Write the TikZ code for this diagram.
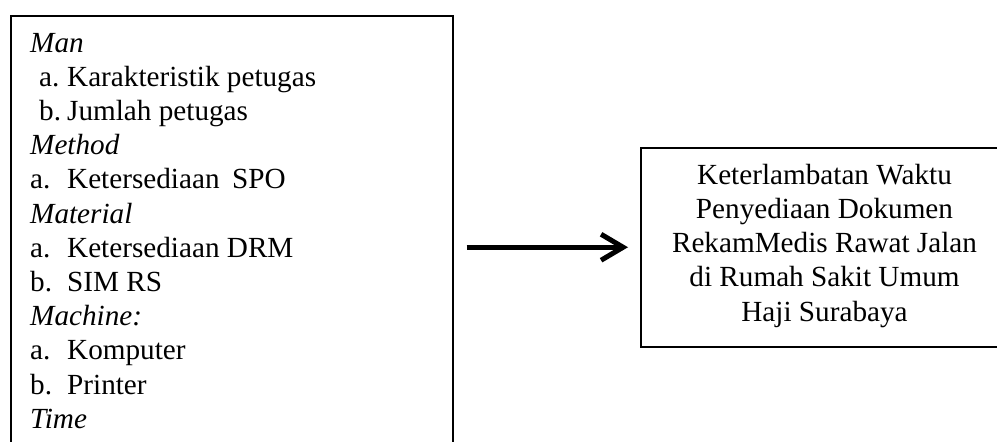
\documentclass[tikz,border=0pt]{standalone}
\usepackage{fontspec}
\setmainfont{Liberation Serif}
\usetikzlibrary{arrows.meta}
\begin{document}
\begin{tikzpicture}[x=1pt,y=1pt,
  boxstyle/.style={draw=black, line width=1.5pt, inner sep=0pt},
  txt/.style={inner sep=0pt, anchor=base west, font=\fontsize{29.2}{34.2}\selectfont},
  ctxt/.style={inner sep=0pt, anchor=base, font=\fontsize{29.2}{34.2}\selectfont},
  bigarrow/.style={line width=5pt, -{Straight Barb[length=22pt,width=26pt,line width=5pt]}}
]
\useasboundingbox (0,0) rectangle (997,-442);
\node[boxstyle, anchor=north west, minimum width=442pt, minimum height=470pt] (causes) at (10,-15) {};
\node[boxstyle, anchor=north west, minimum width=369pt, minimum height=199pt] (effect) at (640,-147) {};

\newcommand{\itm}[2]{\makebox[37pt][l]{#1}#2}
\newcommand{\mitm}[2]{\hspace{9pt}\makebox[28pt][l]{#1}#2}

\node[txt] (l1) at (30,-52) {\itshape Man};
\node[txt] (l2) at (30,-86.2) {\mitm{a.}{Karakteristik petugas}};
\node[txt] (l3) at (30,-120.4) {\mitm{b.}{Jumlah petugas}};
\node[txt] (l4) at (30,-154.6) {\itshape Method};
\node[txt] (l5) at (30,-188.8) {\itm{a.}{Ketersediaan\hspace{12.5pt}SPO}};
\node[txt] (l6) at (30,-223.0) {\itshape Material};
\node[txt] (l7) at (30,-257.2) {\itm{a.}{Ketersediaan DRM}};
\node[txt] (l8) at (30,-291.4) {\itm{b.}{SIM RS}};
\node[txt] (l9) at (30,-325.6) {\itshape Machine:};
\node[txt] (l10) at (30,-359.8) {\itm{a.}{Komputer}};
\node[txt] (l11) at (30,-394.0) {\itm{b.}{Printer}};
\node[txt] (l12) at (30,-428.2) {\itshape Time};

\node[ctxt] (r1) at (824.5,-184) {Keterlambatan Waktu};
\node[ctxt] (r2) at (824.5,-218.3) {Penyediaan Dokumen};
\node[ctxt] (r3) at (824.5,-252.6) {RekamMedis Rawat Jalan};
\node[ctxt] (r4) at (824.5,-286.9) {di Rumah Sakit Umum};
\node[ctxt] (r5) at (824.5,-321.2) {Haji Surabaya};

\draw[bigarrow, shorten <=13pt, shorten >=12pt] (causes.east |- effect.west) -- (effect.west);
\end{tikzpicture}
\end{document}
